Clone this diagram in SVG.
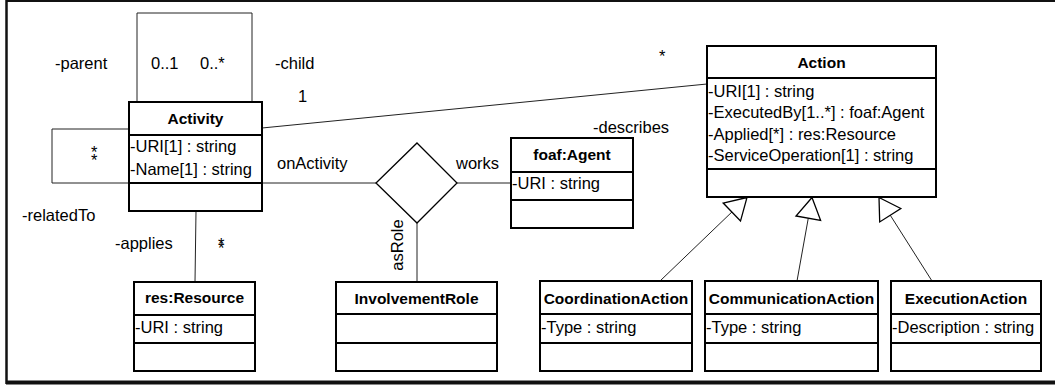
<svg xmlns="http://www.w3.org/2000/svg" width="1055" height="385" viewBox="0 0 1055 385">
<defs>
<style>
text{font-family:"Liberation Sans",Arial,sans-serif;font-size:16.5px;fill:#000}
.n{font-weight:bold;font-size:15.5px;text-anchor:middle}
.box{fill:#fff;stroke:#000;stroke-width:2}
.div{stroke:#000;stroke-width:2}
.c{fill:none;stroke:#222;stroke-width:1}
.frame{fill:none;stroke:#111}
</style>
<marker id="gen" markerUnits="userSpaceOnUse" viewBox="-23 -14 25 28" refX="0" refY="0" markerWidth="25" markerHeight="28" orient="auto">
<path d="M0,0 L-21,-12.5 L-21,12.5 Z" fill="#fff" stroke="#000" stroke-width="1.3"/>
</marker>
</defs>
<rect width="1055" height="385" fill="#fff"/>
<path class="frame" d="M6,1 H1055" stroke-width="2"/>
<path class="frame" d="M6.5,0 V384" stroke-width="2.5"/>
<path class="frame" d="M6,382.5 H1055" stroke-width="4"/>

<g id="connectors">
<polyline class="c" points="137,102 137,13 252,13 252,102"/>
<polyline class="c" points="129,129 52,129 52,183 129,183"/>
<line class="c" x1="262" y1="183" x2="376" y2="183"/>
<line class="c" x1="196" y1="211" x2="195" y2="282"/>
<line class="c" x1="262" y1="128" x2="707" y2="84"/>
<polygon class="c" points="417,143 457,183 417,223 376,183" style="stroke:#000;stroke-width:1.3"/>
<line class="c" x1="457" y1="183" x2="511" y2="183"/>
<line class="c" x1="417" y1="223" x2="417" y2="282"/>
<line class="c" x1="660" y1="281" x2="747" y2="197.5" marker-end="url(#gen)"/>
<line class="c" x1="797" y1="281" x2="812" y2="197.5" marker-end="url(#gen)"/>
<line class="c" x1="932" y1="281" x2="879" y2="197.5" marker-end="url(#gen)"/>
<text x="55" y="69">-parent</text>
<text x="151" y="69">0..1</text>
<text x="200" y="69">0..*</text>
<text x="275" y="69">-child</text>
<text x="298" y="102">1</text>
<text x="91" y="158">*<tspan x="91" y="166">*</tspan></text>
<text x="22" y="221">-relatedTo</text>
<text x="115" y="249">-applies</text>
<text x="218" y="250">*<tspan x="218" y="254">*</tspan></text>
<text x="277" y="169">onActivity</text>
<text x="456" y="169">works</text>
<text transform="translate(403,245) rotate(-90)" text-anchor="middle">asRole</text>
<text x="659" y="62">*</text>
<text x="593" y="133">-describes</text>
</g>

<g id="activity">
<rect class="box" x="129" y="102" width="133" height="109"/>
<line class="div" x1="129" y1="135" x2="262" y2="135"/>
<line class="div" x1="129" y1="183" x2="262" y2="183"/>
<text class="n" x="195.5" y="124">Activity</text>
<text x="130" y="152">-URI[1] : string</text>
<text x="130" y="175">-Name[1] : string</text>
</g>

<g id="resResource">
<rect class="box" x="134" y="282" width="121" height="89"/>
<line class="div" x1="134" y1="315" x2="255" y2="315"/>
<line class="div" x1="134" y1="343" x2="255" y2="343"/>
<text class="n" x="194.5" y="303">res:Resource</text>
<text x="135" y="333">-URI : string</text>
</g>

<g id="involvementRole">
<rect class="box" x="336" y="282" width="161" height="89"/>
<line class="div" x1="336" y1="314" x2="497" y2="314"/>
<line class="div" x1="336" y1="343" x2="497" y2="343"/>
<text class="n" x="416.5" y="304">InvolvementRole</text>
</g>

<g id="foafAgent">
<rect class="box" x="511" y="138" width="122" height="90"/>
<line class="div" x1="511" y1="172" x2="633" y2="172"/>
<line class="div" x1="511" y1="200" x2="633" y2="200"/>
<text class="n" x="572" y="160">foaf:Agent</text>
<text x="512" y="189">-URI : string</text>
</g>

<g id="action">
<rect class="box" x="707" y="46" width="229" height="151"/>
<line class="div" x1="707" y1="78" x2="936" y2="78"/>
<line class="div" x1="707" y1="169" x2="936" y2="169"/>
<text class="n" x="821.5" y="68">Action</text>
<text x="708" y="96.5">-URI[1] : string</text>
<text x="708" y="118">-ExecutedBy[1..*] : foaf:Agent</text>
<text x="708" y="139.5">-Applied[*] : res:Resource</text>
<text x="708" y="161">-ServiceOperation[1] : string</text>
</g>

<g id="coordinationAction">
<rect class="box" x="540" y="281" width="152" height="90"/>
<line class="div" x1="540" y1="314" x2="692" y2="314"/>
<line class="div" x1="540" y1="343" x2="692" y2="343"/>
<text class="n" x="616" y="304">CoordinationAction</text>
<text x="541" y="333">-Type : string</text>
</g>

<g id="communicationAction">
<rect class="box" x="705" y="281" width="173" height="90"/>
<line class="div" x1="705" y1="314" x2="878" y2="314"/>
<line class="div" x1="705" y1="343" x2="878" y2="343"/>
<text class="n" x="791.5" y="304">CommunicationAction</text>
<text x="706" y="333">-Type : string</text>
</g>

<g id="executionAction">
<rect class="box" x="891" y="281" width="150" height="90"/>
<line class="div" x1="891" y1="314" x2="1041" y2="314"/>
<line class="div" x1="891" y1="343" x2="1041" y2="343"/>
<text class="n" x="966" y="304">ExecutionAction</text>
<text x="892" y="333">-Description : string</text>
</g>
</svg>
